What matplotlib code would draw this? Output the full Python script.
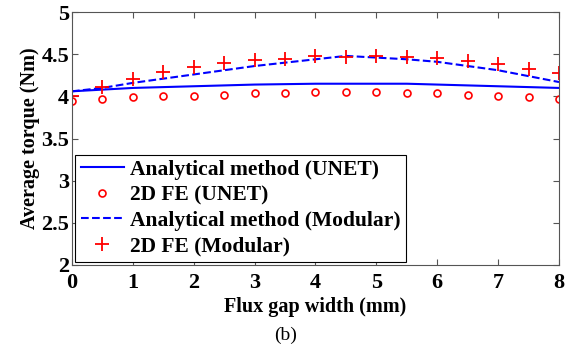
import matplotlib.pyplot as plt
import numpy as np

plt.rcParams['font.family'] = ['Liberation Serif', 'DejaVu Serif']

gap = np.arange(0, 8.5, 0.5)

# torque values (Nm)
ana_unet = [4.06, 4.08, 4.10, 4.11, 4.12, 4.13, 4.14, 4.145, 4.15, 4.15, 4.15, 4.15, 4.14, 4.13, 4.12, 4.11, 4.10]
fe_unet = [3.95, 3.97, 3.99, 4.00, 4.01, 4.02, 4.04, 4.04, 4.05, 4.05, 4.05, 4.04, 4.04, 4.02, 4.00, 3.99, 3.97]
ana_mod = [4.06, 4.10, 4.16, 4.21, 4.26, 4.31, 4.36, 4.40, 4.44, 4.48, 4.46, 4.44, 4.41, 4.36, 4.31, 4.24, 4.17]
fe_mod = [4.00, 4.11, 4.21, 4.29, 4.35, 4.40, 4.43, 4.44, 4.48, 4.47, 4.48, 4.47, 4.45, 4.42, 4.38, 4.33, 4.28]

fig = plt.figure(figsize=(5.71, 3.45), dpi=100)
ax = fig.add_axes([0.126, 0.232, 0.853, 0.733])

ax.plot(gap, ana_unet, '-', color='blue', lw=1.5, label='Analytical method (UNET)')
ax.plot(gap, fe_unet, 'o', color='red', mfc='none', ms=5, mew=1.2, ls='none', label='2D FE (UNET)')
ax.plot(gap, ana_mod, '--', color='blue', lw=1.5, label='Analytical method (Modular)')
ax.plot(gap, fe_mod, '+', color='red', ms=10, mew=1.3, ls='none', label='2D FE (Modular)')

ax.set_xlim(0, 8)
ax.set_ylim(2, 5)
ax.set_xticks(range(9))
ax.set_yticks([2, 2.5, 3, 3.5, 4, 4.5, 5])
ax.set_yticklabels(['2', '2.5', '3', '3.5', '4', '4.5', '5'])
ax.tick_params(direction='in', top=True, right=True, labelsize=16, length=4, color='#555555')
ax.tick_params(axis='x', pad=6)
ax.tick_params(axis='y', pad=2)
for lbl in ax.get_xticklabels() + ax.get_yticklabels():
    lbl.set_fontweight('bold')
for s in ax.spines.values():
    s.set_color('#555555')

ax.set_xlabel('Flux gap width (mm)', fontsize=14.5, fontweight='bold', labelpad=3)
ax.set_ylabel('Average torque (Nm)', fontsize=14.5, fontweight='bold', labelpad=1)

leg = ax.legend(loc='lower left', prop={'size': 15.5, 'weight': 'bold'}, fancybox=False,
                framealpha=1, edgecolor='black', borderaxespad=0.15, handlelength=2.0,
                labelspacing=0.25, borderpad=0.25, handletextpad=0.3)
leg.get_frame().set_linewidth(0.8)

fig.text(0.5, 0.015, '(b)', ha='center', fontsize=14)

fig.savefig('out.png', dpi=100)
